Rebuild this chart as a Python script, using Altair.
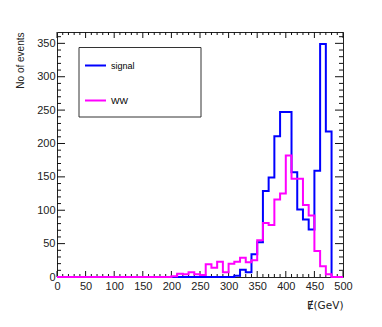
import altair as alt
import pandas as pd

# bin left edges (10 GeV bins, 0-500)
bin_edges = list(range(0, 500, 10))
series_names = ["signal", "WW"]
series_colors = ["#0000ff", "#ff00ff"]

signal_counts = [0] * 31 + [2, 11, 7, 34, 52, 129, 149, 211, 247, 247,
                            157, 101, 86, 71, 159, 349, 218, 0, 0]
ww_counts = [0] * 20 + [1, 5, 4, 7, 4, 3, 19, 14, 23, 7,
                        20, 23, 29, 22, 25, 55, 81, 78, 116, 125,
                        182, 147, 147, 108, 92, 39, 16, 4, 0, 0]

x_ticks = list(range(0, 501, 10))
y_ticks = list(range(0, 361, 10))
x_labels = list(range(0, 501, 50))
y_labels = list(range(0, 351, 50))

W, H = 286, 245

rows = []
for name, counts in zip(series_names, [signal_counts, ww_counts]):
    for e, c in zip(bin_edges, counts):
        rows.append({"series": name, "x": e, "n": c})
    rows.append({"series": name, "x": 500, "n": counts[-1]})
df = pd.DataFrame(rows)

xs = alt.Scale(domain=[0, 500], nice=False, zero=False)
ys = alt.Scale(domain=[0, 367], nice=False, zero=False)
col = alt.Color("series:N", scale=alt.Scale(domain=series_names, range=series_colors),
                legend=alt.Legend(title=None, orient="none", legendX=27, legendY=22,
                                  symbolType="stroke", symbolSize=441, symbolStrokeWidth=2,
                                  labelFontSize=9, labelFont="Liberation Sans",
                                  labelOffset=4, rowPadding=18, padding=0,
                                  strokeColor="transparent"))

xaxis = alt.Axis(values=x_labels, ticks=False, domain=False, grid=False, labelPadding=3,
                 labelFontSize=11, labelFont="Liberation Sans", labelColor="#222",
                 labelOverlap=False,
                 title="\u0246(GeV)", titleFont="DejaVu Sans", titleFontSize=10.5,
                 titleFontWeight="normal", titleColor="#222", titleX=W, titleY=28,
                 titleAlign="right", titleBaseline="middle", labelFlush=False)
yaxis = alt.Axis(values=y_labels, ticks=False, domain=False, grid=False, labelPadding=2,
                 labelFontSize=11, labelFont="Liberation Sans", labelColor="#222",
                 labelOverlap=False,
                 title="No of events", titleFont="Liberation Sans", titleFontSize=10,
                 titleFontWeight="normal", titleColor="#222", titleX=-37, titleY=0,
                 titleAngle=-90, titleAlign="right", titleBaseline="middle")

box = alt.Chart(pd.DataFrame({"a": [0]})).mark_rect(
    fill="white", stroke="#333", strokeWidth=1).encode(
    x=alt.value(22), x2=alt.value(144), y=alt.value(15.5), y2=alt.value(85))

base = alt.Chart(df)
sig = base.transform_filter(alt.datum.series == "signal").mark_line(
    interpolate="step-after", strokeWidth=2).encode(
    x=alt.X("x:Q", scale=xs, axis=xaxis),
    y=alt.Y("n:Q", scale=ys, axis=yaxis),
    color=col)
ww = base.transform_filter(alt.datum.series == "WW").mark_line(
    interpolate="step-after", strokeWidth=2).encode(
    x=alt.X("x:Q", scale=xs, axis=xaxis), y=alt.Y("n:Q", scale=ys, axis=yaxis), color=col)

xt = pd.DataFrame({"t": x_ticks, "major": [t % 50 == 0 for t in x_ticks]})
yt = pd.DataFrame({"t": y_ticks, "major": [t % 50 == 0 for t in y_ticks]})

def xrule(major, y0, y1):
    return alt.Chart(xt).transform_filter(alt.datum.major == major).mark_rule(
        color="#111", strokeWidth=1).encode(
        x=alt.X("t:Q", scale=xs, axis=xaxis), y=alt.value(y0), y2=alt.value(y1))

def yrule(major, x0, x1):
    return alt.Chart(yt).transform_filter(alt.datum.major == major).mark_rule(
        color="#111", strokeWidth=1).encode(
        y=alt.Y("t:Q", scale=ys, axis=yaxis), x=alt.value(x0), x2=alt.value(x1))

ticks = [
    xrule(True, H, H - 6), xrule(False, H, H - 3),
    xrule(True, 0, 6), xrule(False, 0, 3),
    yrule(True, 0, 8), yrule(False, 0, 4),
    yrule(True, W, W - 8), yrule(False, W, W - 4),
]

chart = alt.layer(box, *ticks, sig, ww).properties(
    width=W, height=H,
    autosize=alt.AutoSizeParams(type="none"),
    padding={"left": 49, "top": 24, "right": 31, "bottom": 42},
    background="white",
).configure_view(stroke="#222", strokeWidth=1)

chart.save("out.html", embed_options={"renderer": "svg", "actions": False})
